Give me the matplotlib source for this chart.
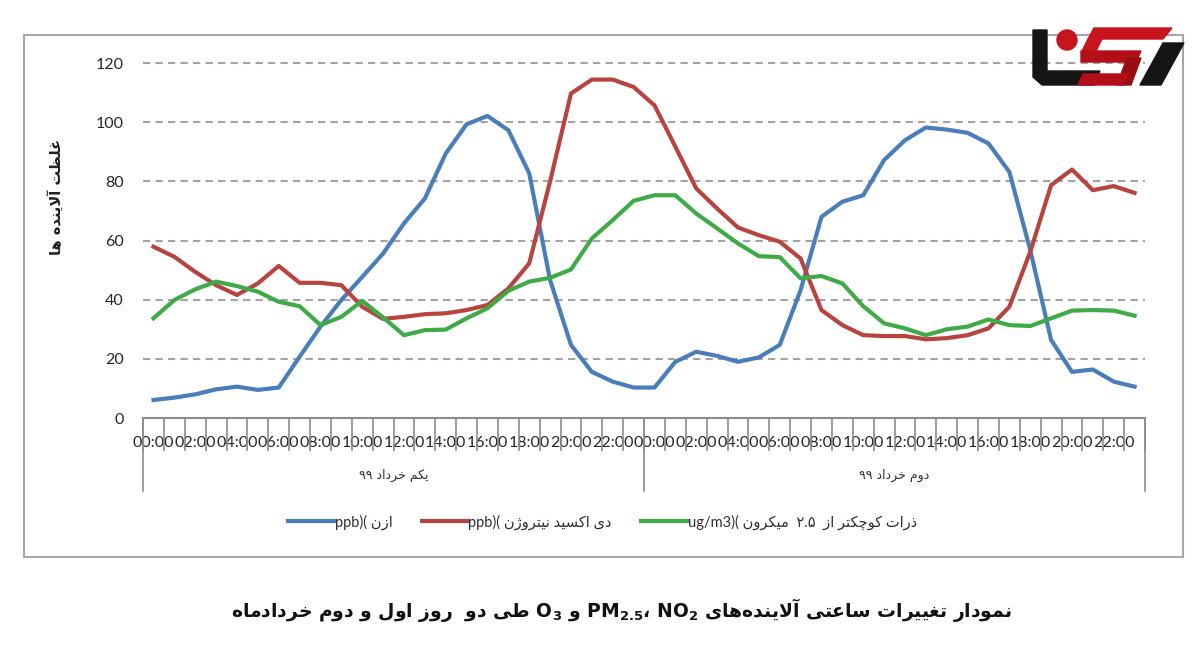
import matplotlib
matplotlib.use("Agg")
import matplotlib.pyplot as plt
from matplotlib.patches import Rectangle, Polygon, Ellipse
from matplotlib.transforms import blended_transform_factory

# ---------------- data ----------------
o3 = [6.1, 6.9, 8.0, 9.7, 10.6, 9.5, 10.3, 20.7, 30.9, 39.9, 47.7, 55.6,
      65.8, 74.2, 89.4, 99.3, 102.1, 97.3, 82.7, 46.6, 24.7, 15.6, 12.3, 10.3,
      10.3, 19.0, 22.4, 21.0, 19.0, 20.5, 24.7, 43.2, 68.0, 73.1, 75.3, 87.2,
      93.9, 98.2, 97.5, 96.4, 92.8, 83.2, 56.8, 26.4, 15.6, 16.4, 12.3, 10.6]
no2 = [57.9, 54.5, 49.4, 44.9, 41.6, 45.5, 51.4, 45.7, 45.7, 44.9, 37.6, 33.5,
       34.2, 35.1, 35.4, 36.5, 38.2, 43.8, 52.3, 80.0, 109.7, 114.4, 114.4, 111.9,
       105.7, 91.7, 77.6, 70.8, 64.4, 61.8, 59.6, 53.9, 36.5, 31.4, 28.0, 27.7,
       27.7, 26.6, 27.0, 28.0, 30.3, 37.6, 56.2, 78.7, 84.0, 77.0, 78.4, 76.1]
pm25 = [33.7, 39.9, 43.5, 46.1, 44.6, 42.7, 39.3, 37.8, 31.4, 34.2, 39.6, 34.0,
        28.0, 29.7, 29.9, 33.7, 37.1, 43.0, 46.1, 47.4, 50.2, 60.7, 66.9, 73.4,
        75.3, 75.3, 69.1, 64.1, 59.0, 54.7, 54.4, 47.2, 48.0, 45.5, 37.8, 32.0,
        30.3, 28.0, 30.0, 30.9, 33.3, 31.4, 31.1, 33.7, 36.3, 36.5, 36.3, 34.6]

tick_labels = ["00:00", "02:00", "04:00", "06:00", "08:00", "10:00",
               "12:00", "14:00", "16:00", "18:00", "20:00", "22:00"]
day_labels = ["یکم خرداد ۹۹", "دوم خرداد ۹۹"]
series_names = ["ازن", "دی اکسید نیتروژن", "ذرات کوچکتر از", "میکرون"]
series_units = ["ppb", "ppb", "ug/m3"]
pm_size = "۲.۵"
y_ticks = [0, 20, 40, 60, 80, 100, 120]
y_title = "غلظت آلاینده ها"
title_start = "نمودار تغییرات ساعتی آلاینده‌های"
title_end = "طی دو  روز اول و دوم خردادماه"

BLUE = "#4a7ebb"
RED = "#b8443f"
GREEN = "#3fab47"

# ------------- simple Persian shaping (presentation forms) -------------
FORMS = {
    'ا': ('\uFE8D', '\uFE8E', None, None),
    'آ': ('\uFE81', '\uFE82', None, None),
    'ب': ('\uFE8F', '\uFE90', '\uFE91', '\uFE92'),
    'ت': ('\uFE95', '\uFE96', '\uFE97', '\uFE98'),
    'ج': ('\uFE9D', '\uFE9E', '\uFE9F', '\uFEA0'),
    'چ': ('\uFB7A', '\uFB7B', '\uFB7C', '\uFB7D'),
    'خ': ('\uFEA5', '\uFEA6', '\uFEA7', '\uFEA8'),
    'د': ('\uFEA9', '\uFEAA', None, None),
    'ذ': ('\uFEAB', '\uFEAC', None, None),
    'ر': ('\uFEAD', '\uFEAE', None, None),
    'ز': ('\uFEAF', '\uFEB0', None, None),
    'ژ': ('\uFB8A', '\uFB8B', None, None),
    'س': ('\uFEB1', '\uFEB2', '\uFEB3', '\uFEB4'),
    'ط': ('\uFEC1', '\uFEC2', '\uFEC3', '\uFEC4'),
    'ظ': ('\uFEC5', '\uFEC6', '\uFEC7', '\uFEC8'),
    'ع': ('\uFEC9', '\uFECA', '\uFECB', '\uFECC'),
    'غ': ('\uFECD', '\uFECE', '\uFECF', '\uFED0'),
    'ک': ('\uFB8E', '\uFB8F', '\uFB90', '\uFB91'),
    'ل': ('\uFEDD', '\uFEDE', '\uFEDF', '\uFEE0'),
    'م': ('\uFEE1', '\uFEE2', '\uFEE3', '\uFEE4'),
    'ن': ('\uFEE5', '\uFEE6', '\uFEE7', '\uFEE8'),
    'و': ('\uFEED', '\uFEEE', None, None),
    'ه': ('\uFEE9', '\uFEEA', '\uFEEB', '\uFEEC'),
    'ی': ('\uFBFC', '\uFBFD', '\uFBFE', '\uFBFF'),
}
LAM_ALEF = {'ا': ('\uFEFB', '\uFEFC'), 'آ': ('\uFEF5', '\uFEF6')}


def _jf(c):
    return c in FORMS and FORMS[c][2] is not None


def shape(s):
    out = []
    n = len(s)
    i = 0
    while i < n:
        c = s[i]
        if c not in FORMS:
            out.append('' if c == '\u200c' else c)
            i += 1
            continue
        jp = i > 0 and _jf(s[i - 1])
        if c == 'ل' and i + 1 < n and s[i + 1] in LAM_ALEF:
            out.append(LAM_ALEF[s[i + 1]][1 if jp else 0])
            i += 2
            continue
        jn = _jf(c) and i + 1 < n and s[i + 1] in FORMS
        f = FORMS[c]
        out.append(f[3] if (jp and jn) else f[1] if jp else f[2] if jn else f[0])
        i += 1
    return ''.join(reversed(out))


# ---------------- figure ----------------
fig = plt.figure(figsize=(12, 6.65), dpi=100)
fig.patch.set_facecolor("white")
ax = fig.add_axes([0.1192, 0.3714, 0.835, 0.5383])

x = list(range(len(o3)))
labels = [
    series_units[0] + ")( " + shape(series_names[0]),
    series_units[1] + ")( " + shape(series_names[1]),
    series_units[2] + ")( " + shape(series_names[3]) + "  " + pm_size + "  " + shape(series_names[2]),
]
l1, = ax.plot(x, o3, color=BLUE, lw=3.0, solid_joinstyle="round", label=labels[0], zorder=3)
l2, = ax.plot(x, no2, color=RED, lw=3.0, solid_joinstyle="round", label=labels[1], zorder=3)
l3, = ax.plot(x, pm25, color=GREEN, lw=3.0, solid_joinstyle="round", label=labels[2], zorder=3)

ax.set_xlim(-0.5, len(o3) - 0.5)
ax.set_ylim(0, 121)
ax.set_yticks(y_ticks)
ax.set_yticklabels([str(v) for v in y_ticks])
for v in y_ticks[1:]:
    ax.axhline(v, color="#a3a3a3", lw=1.5, ls=(0, (3.5, 2.5)), zorder=1)

for s in ["top", "right", "left"]:
    ax.spines[s].set_visible(False)
ax.spines["bottom"].set_color("#8c8c8c")
ax.spines["bottom"].set_linewidth(1.5)

ax.tick_params(axis="y", length=0, pad=14, labelsize=11.5, labelcolor="#262626")
for t in ax.get_yticklabels():
    t.set_fontfamily("Lato")

ax.set_xticks(x[::2])
ax.set_xticklabels(tick_labels + tick_labels)
ax.set_xticks([v - 0.5 for v in range(len(o3) + 1)], minor=True)
ax.tick_params(axis="x", which="major", length=0, pad=13, labelsize=11.5, labelcolor="#262626")
ax.tick_params(axis="x", which="minor", length=24, width=1.2, color="#8c8c8c", direction="out")
for t in ax.get_xticklabels():
    t.set_fontfamily("Lato")

trans = blended_transform_factory(ax.transData, ax.transAxes)
for bx in [-0.5, 23.5, 47.5]:
    ax.plot([bx, bx], [0, -0.205], transform=trans, color="#8c8c8c", lw=1.2, clip_on=False)
for k, lab in enumerate(day_labels):
    ax.text(11.5 + 24 * k, -0.16, shape(lab), transform=trans, ha="center", va="center",
            fontsize=9, family="DejaVu Sans", color="#303030")

fig.text(0.0475, 0.704, shape(y_title), rotation=90, ha="center", va="center",
         fontsize=10.5, fontweight="bold", family="DejaVu Sans", color="#202020")

leg = fig.legend(handles=[l1, l2, l3], labels=labels, loc="center", ncol=3,
                 bbox_to_anchor=(0.502, 0.215), frameon=False, handlelength=3.2,
                 columnspacing=2.0, handletextpad=0.0,
                 prop={"family": ["Lato", "DejaVu Sans"], "size": 10.5})
for t in leg.get_texts():
    t.set_color("#303030")

fig.add_artist(Rectangle((0.02, 0.1624), 0.966, 0.7846, transform=fig.transFigure,
                         fill=False, edgecolor="#a6a6a6", lw=1.5))

title = (shape(title_end) + r" $\mathbf{O_3}$ " + shape("و")
         + r" $\mathbf{PM_{2.5}}$" + "\u060c " + r"$\mathbf{NO_2}$ "
         + shape(title_start))
fig.text(0.518, 0.083, title, ha="center", va="center", fontsize=13.5,
         fontweight="bold", family="DejaVu Sans", color="#111111")


# ---------------- watermark logo (top right) ----------------
def px(xp, yp):
    return (xp / 1200.0, 1 - yp / 665.0)


logo = [
    Polygon([px(1033, 30), px(1047, 30), px(1047, 71), px(1100, 71), px(1094, 85),
             px(1042, 85), px(1033, 77)], closed=True, color="#151515"),
    Ellipse(px(1067, 40), 20 / 1200.0, 20 / 665.0, color="#c8141c"),
    Polygon([px(1094, 28), px(1172, 28), px(1163, 39), px(1088, 39)], closed=True, color="#c8141c"),
    Polygon([px(1088, 39), px(1102, 39), px(1095, 53), px(1081, 53)], closed=True, color="#c8141c"),
    Polygon([px(1081, 51), px(1141, 51), px(1136, 62), px(1081, 62)], closed=True, color="#b30f18"),
    Polygon([px(1127, 58), px(1141, 58), px(1131, 85), px(1117, 85)], closed=True, color="#9a0c12"),
    Polygon([px(1083, 74), px(1128, 74), px(1124, 85), px(1078, 85)], closed=True, color="#b30f18"),
    Polygon([px(1163, 43), px(1184, 43), px(1161, 85), px(1140, 85)], closed=True, color="#151515"),
]
for p in logo:
    p.set_transform(fig.transFigure)
    p.set_zorder(10)
    fig.add_artist(p)

fig.savefig("out.png", dpi=100, facecolor="white")
